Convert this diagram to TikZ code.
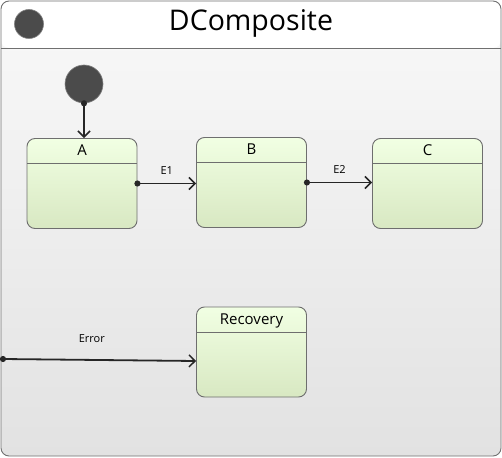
\documentclass[tikz,border=0pt]{standalone}
\usepackage{fontspec}
\setmainfont{Open Sans}
\usetikzlibrary{arrows.meta, positioning, shapes.geometric}
\definecolor{framedraw}{RGB}{112, 112, 112}
\definecolor{frametop}{RGB}{249, 249, 249}
\definecolor{framebot}{RGB}{226, 226, 226}
\definecolor{statedraw}{RGB}{110, 110, 110}
\definecolor{statetop}{RGB}{241, 255, 227}
\definecolor{statebot}{RGB}{216, 232, 194}
\definecolor{pseudofill}{RGB}{75, 75, 75}

\begin{document}
\begin{tikzpicture}[
        x=1pt, y=-1pt,
        composite/.style={rectangle, draw=framedraw, line width=0.9pt, rounded corners=8pt,
            minimum width=500pt, minimum height=455pt, top color=frametop, bottom color=framebot,
            path picture={
                \fill[white] (path picture bounding box.north west) rectangle ([yshift=-47pt]path picture bounding box.north east);
                \draw[framedraw, line width=0.9pt] ([yshift=-47pt]path picture bounding box.north west) -- ([yshift=-47pt]path picture bounding box.north east);
            }},
        statebox/.style={rectangle, draw=statedraw, line width=0.9pt, rounded corners=8pt,
            minimum width=110pt, minimum height=90pt, top color=statetop, bottom color=statebot,
            path picture={
                \draw[statedraw, line width=0.7pt] ([yshift=-25pt]path picture bounding box.north west) -- ([yshift=-25pt]path picture bounding box.north east);
            }},
        statename/.style={anchor=north, yshift=-3.5pt, font=\fontsize{15}{17}\selectfont},
        pseudo/.style={circle, fill=pseudofill, draw=gray, line width=0.6pt, inner sep=0pt},
        trans/.style={{Circle[length=6pt]}-{Straight Barb[length=6pt, width=12pt, line width=1.5pt]},
            line width=1.8pt, black!85, shorten <=-3pt},
        evlabel/.style={font=\fontsize{11}{13}\selectfont, text=black}
    ]
        \useasboundingbox (0,0) rectangle (502,457);

        % Composite state frame
        \node[composite] (comp) at (251,228.5) {};
        \node[pseudo, minimum size=29pt] (hdrdot) at (29,24) {};
        \node[font=\fontsize{28.5}{32}\selectfont] (title) at (251,23) {DComposite};

        % Initial pseudostate
        \node[pseudo, minimum size=38pt] (init) at (84,84) {};

        % States
        \node[statebox, label={[statename]north:A}] (A) at (82,183.5) {};
        \node[statebox, label={[statename]north:B}] (B) at (251.5,182.5) {};
        \node[statebox, label={[statename]north:C}] (C) at (427.5,183.5) {};
        \node[statebox, label={[statename]north:Recovery}] (recovery) at (251.5,352) {};

        % Entry point on the frame border
        \coordinate (errsrc) at (3,359);

        % Transitions
        \draw[trans] (init.south) -- (init.south |- A.north);
        \draw[trans] (A.east) -- node[evlabel, above=5pt] {E1} (A.east -| B.west);
        \draw[trans] (B.east) -- node[evlabel, above=5pt] {E2} (B.east -| C.west);
        \draw[trans] (errsrc) -- node[evlabel, above=13pt, pos=0.46] {Error} ([yshift=-9pt]recovery.west);
    \end{tikzpicture}
\end{document}
